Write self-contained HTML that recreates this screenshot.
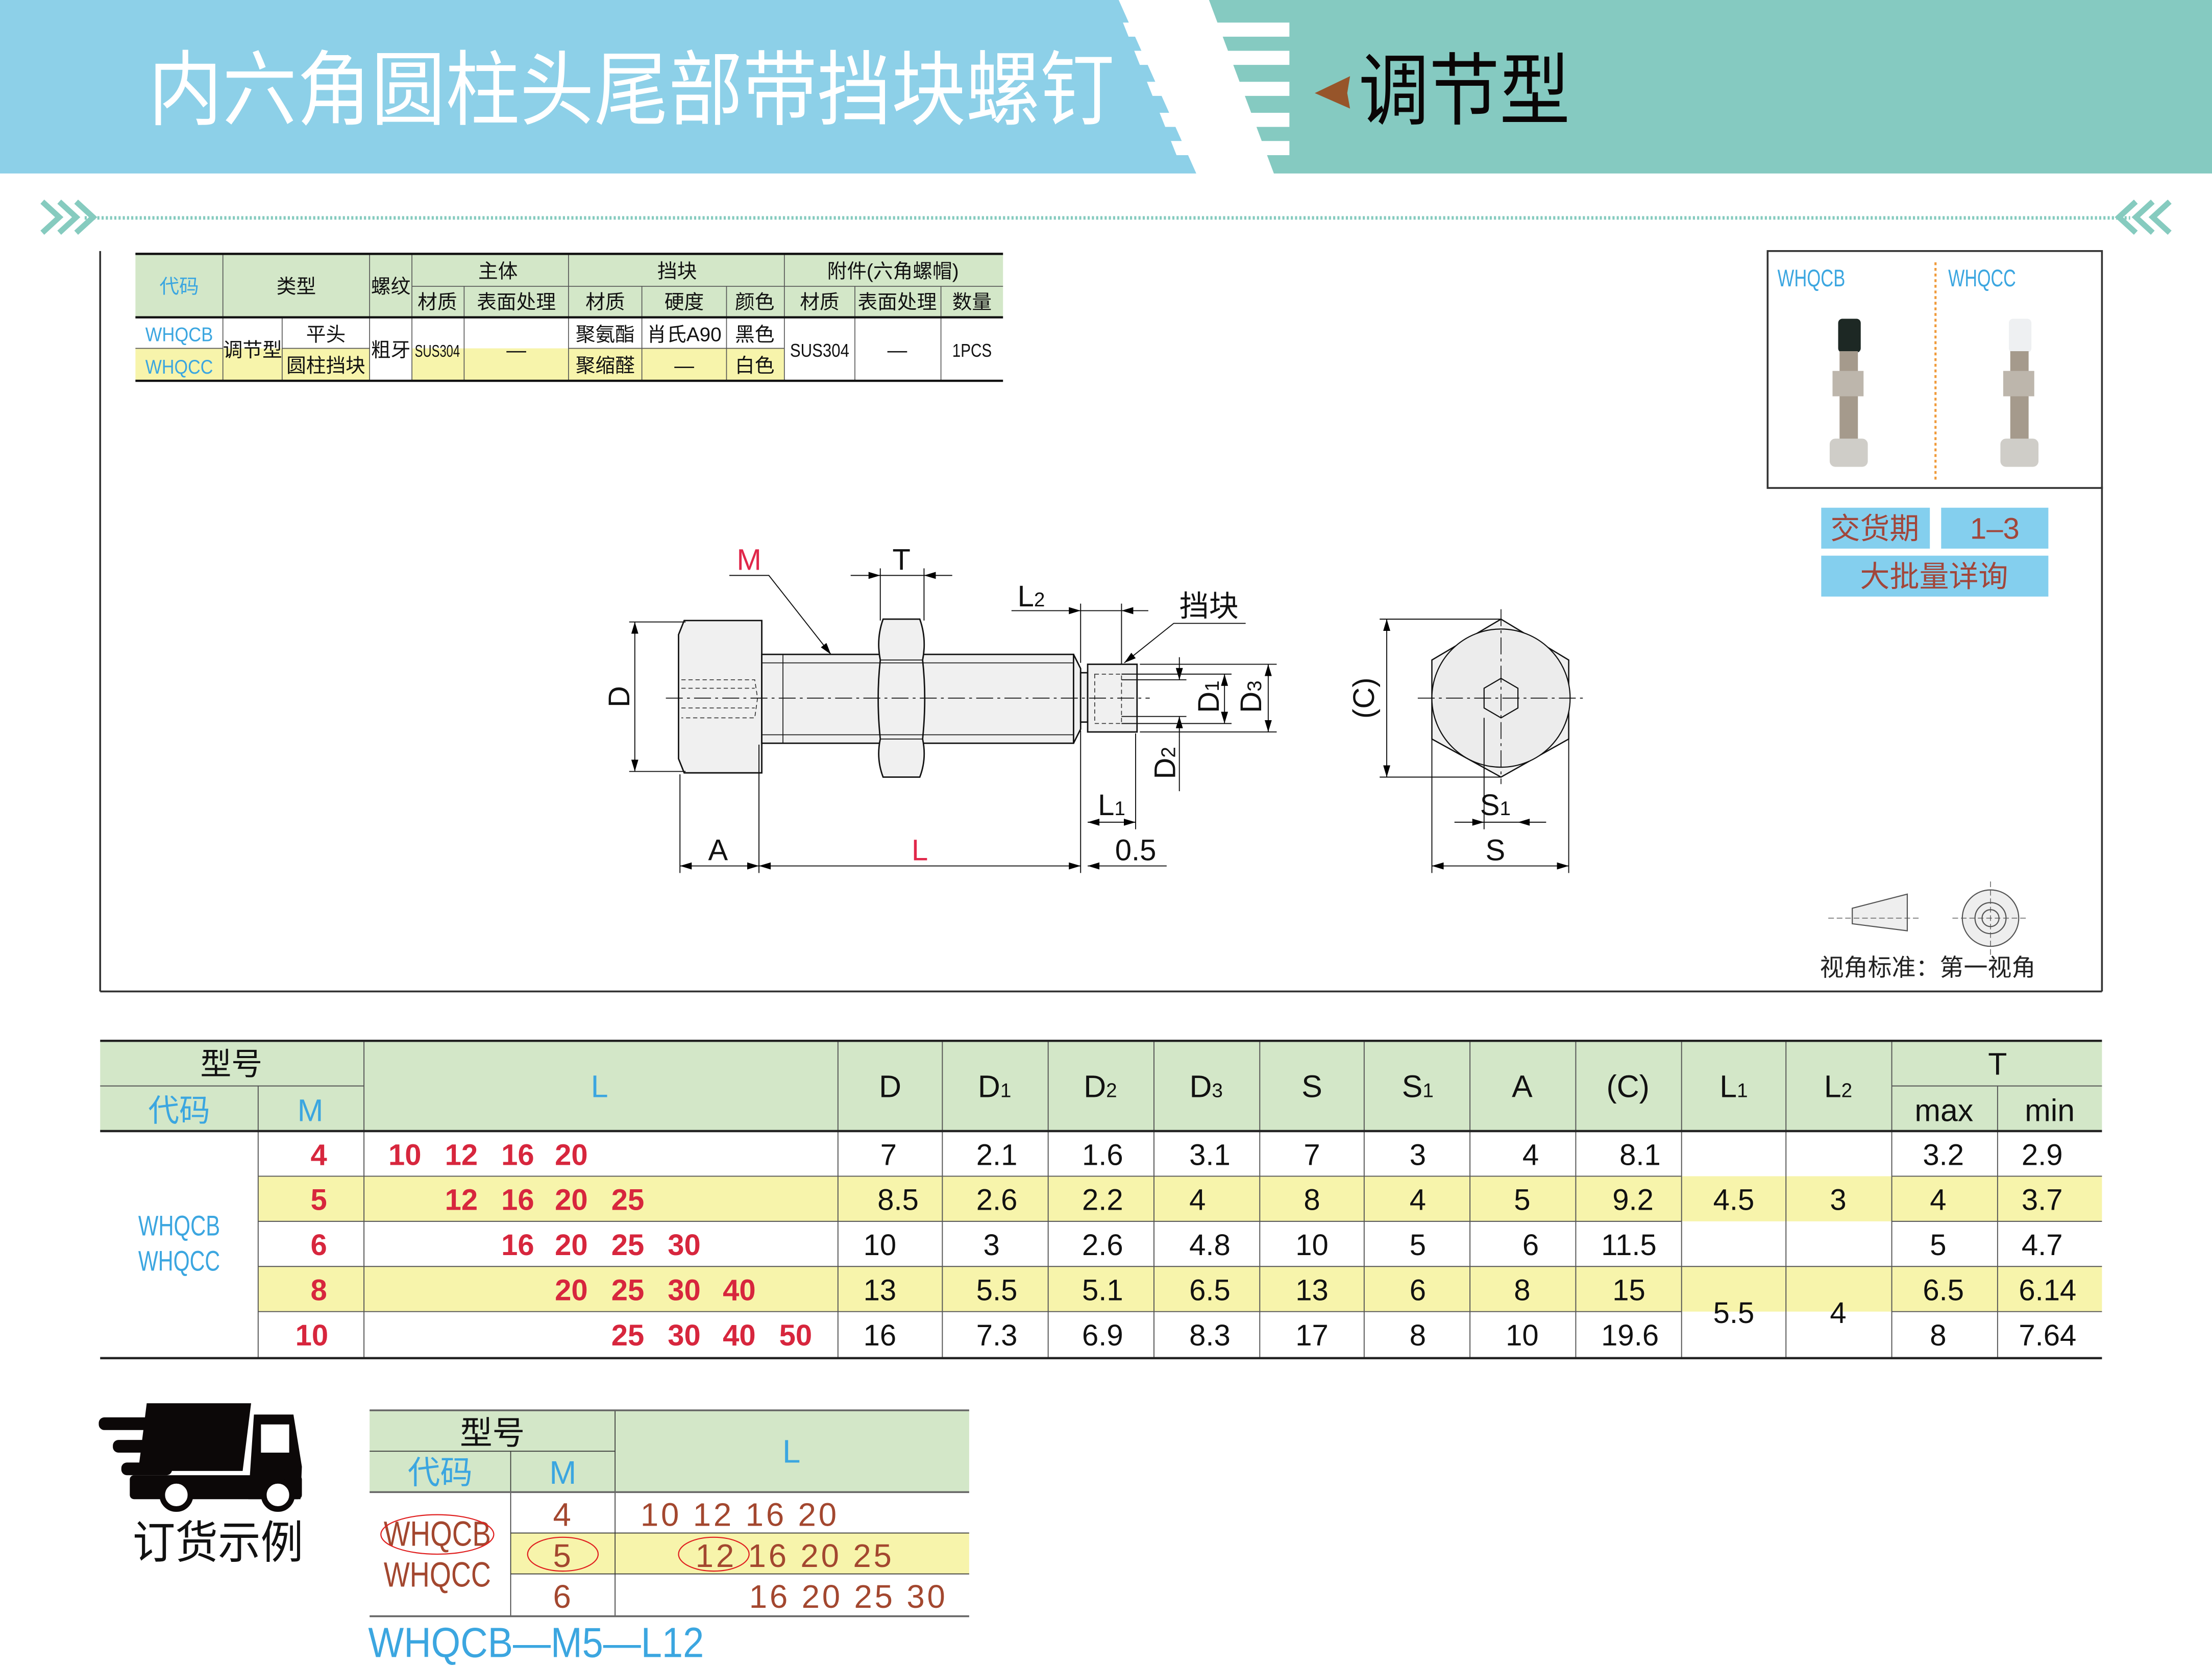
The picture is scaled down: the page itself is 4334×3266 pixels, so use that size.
<!DOCTYPE html>
<html><head><meta charset="utf-8"><style>
html,body{margin:0;padding:0;background:#fff;}
svg{display:block;}
text{font-family:"Liberation Sans","Noto Sans CJK SC",sans-serif;}
</style></head><body>
<svg width="4334" height="3266" viewBox="0 0 1568 1182" preserveAspectRatio="none" xmlns="http://www.w3.org/2000/svg">
<defs>
<marker id="a" viewBox="0 0 10 6" refX="10" refY="3" markerWidth="10" markerHeight="5" markerUnits="userSpaceOnUse" orient="auto-start-reverse"><path d="M0,0 L10,3 L0,6 z" fill="#000"/></marker>
</defs>
<!-- header -->
<polygon points="0,0 793,0 848,123 0,123" fill="#8dd0e8"/>
<polygon points="857,0 1568,0 1568,123 903,123" fill="#85cac1"/>
<g fill="#fff">
<polygon points="796,16 914,16 914,26 800,26"/>
<polygon points="804,36 914,36 914,46 808,46"/>
<polygon points="813,58 914,58 914,68 817,68"/>
<polygon points="822,80 914,80 914,90 826,90"/>
<polygon points="830,100 914,100 914,110 834,110"/>
</g>
<text x="105" y="84" font-size="58" fill="#fff" textLength="685" lengthAdjust="spacingAndGlyphs">内六角圆柱头尾部带挡块螺钉</text>
<polygon points="932,66 957,54 955,66 957,77" fill="#97552a"/>
<text x="963" y="84" font-size="56" fill="#0a0606" textLength="150" lengthAdjust="spacingAndGlyphs">调节型</text>
<line x1="60" y1="154.5" x2="1510" y2="154.5" stroke="#86cbbf" stroke-width="2.5" stroke-dasharray="1.5,1.5"/>
<g fill="none" stroke="#86cbbf" stroke-width="4">
<polyline points="30,143 42,154 30,165"/><polyline points="42,143 54,154 42,165"/><polyline points="54,143 66,154 54,165"/>
<polyline points="1538,143 1526,154 1538,165"/><polyline points="1526,143 1514,154 1526,165"/><polyline points="1514,143 1502,154 1514,165"/>
</g>
<!-- frame -->
<g stroke="#333" stroke-width="1.3" fill="none">
<line x1="71" y1="178" x2="71" y2="703"/>
<line x1="71" y1="703" x2="1490" y2="703"/>
<line x1="1490" y1="345" x2="1490" y2="703"/>
<rect x="1253" y="178" width="237" height="168"/>
</g>
<!-- spec table -->
<rect x="96" y="180" width="615" height="45" fill="#d3e7c8"/>
<g fill="#f7f4ab">
<rect x="96" y="247" width="62" height="23"/><rect x="158" y="247" width="104" height="23"/>
<rect x="292" y="247" width="264" height="23"/>
</g>
<g stroke="#555" stroke-width="0.6">
<line x1="158" y1="180" x2="158" y2="270"/><line x1="262" y1="180" x2="262" y2="270"/>
<line x1="292" y1="180" x2="292" y2="270"/><line x1="403" y1="180" x2="403" y2="270"/>
<line x1="556" y1="180" x2="556" y2="270"/><line x1="200" y1="225" x2="200" y2="270"/>
<line x1="329" y1="203" x2="329" y2="270"/><line x1="455" y1="203" x2="455" y2="270"/>
<line x1="515" y1="203" x2="515" y2="270"/><line x1="606" y1="203" x2="606" y2="270"/>
<line x1="667" y1="203" x2="667" y2="270"/>
<line x1="292" y1="203" x2="711" y2="203"/>
<line x1="96" y1="247" x2="158" y2="247"/><line x1="200" y1="247" x2="262" y2="247"/>
<line x1="403" y1="247" x2="556" y2="247"/>
</g>
<g stroke="#111" stroke-width="1.6">
<line x1="96" y1="180" x2="711" y2="180"/><line x1="96" y1="225" x2="711" y2="225"/><line x1="96" y1="270" x2="711" y2="270"/>
</g>
<g font-size="14" text-anchor="middle" fill="#111">
<text x="127" y="208" fill="#3ba6e0">代码</text><text x="210" y="208">类型</text><text x="277" y="208">螺纹</text>
<text x="353" y="197">主体</text><text x="480" y="197">挡块</text><text x="633" y="197">附件(六角螺帽)</text>
<text x="310" y="219">材质</text><text x="366" y="219">表面处理</text><text x="429" y="219">材质</text><text x="485" y="219">硬度</text>
<text x="535" y="219">颜色</text><text x="581" y="219">材质</text><text x="636" y="219">表面处理</text><text x="689" y="219">数量</text>
<text x="127" y="242" fill="#3ba6e0" textLength="48" lengthAdjust="spacingAndGlyphs">WHQCB</text><text x="127" y="265" fill="#3ba6e0" textLength="48" lengthAdjust="spacingAndGlyphs">WHQCC</text>
<text x="179" y="253">调节型</text><text x="231" y="242">平头</text><text x="231" y="264">圆柱挡块</text>
<text x="277" y="253">粗牙</text><text x="310" y="253" font-size="12" textLength="32" lengthAdjust="spacingAndGlyphs">SUS304</text><text x="366" y="253">—</text>
<text x="429" y="242">聚氨酯</text><text x="485" y="242">肖氏A90</text><text x="535" y="242">黑色</text>
<text x="429" y="264">聚缩醛</text><text x="485" y="264">—</text><text x="535" y="264">白色</text>
<text x="581" y="253" font-size="13" textLength="42" lengthAdjust="spacingAndGlyphs">SUS304</text><text x="636" y="253">—</text><text x="689" y="253" font-size="13" textLength="28" lengthAdjust="spacingAndGlyphs">1PCS</text>
</g>
<!-- photos -->
<text x="1260" y="203" font-size="17" fill="#3ba6e0" textLength="48" lengthAdjust="spacingAndGlyphs">WHQCB</text>
<text x="1381" y="203" font-size="17" fill="#3ba6e0" textLength="48" lengthAdjust="spacingAndGlyphs">WHQCC</text>
<line x1="1372" y1="186" x2="1372" y2="340" stroke="#f09a3a" stroke-width="1.5" stroke-dasharray="2,2"/>
<g>
<rect x="1303" y="226" width="16" height="24" rx="3" fill="#1d2824"/>
<rect x="1304" y="249" width="13" height="64" fill="#a59a8c"/>
<rect x="1299" y="263" width="22" height="18" fill="#bdb6ac"/>
<rect x="1297" y="311" width="27" height="20" rx="4" fill="#cfcdc8"/>
<rect x="1424" y="226" width="16" height="24" rx="3" fill="#eef0f2"/>
<rect x="1425" y="249" width="13" height="64" fill="#a59a8c"/>
<rect x="1420" y="263" width="22" height="18" fill="#bdb6ac"/>
<rect x="1418" y="311" width="27" height="20" rx="4" fill="#cfcdc8"/>
</g>
<rect x="1291" y="360" width="77" height="29" fill="#84cfee"/>
<rect x="1376" y="360" width="76" height="29" fill="#84cfee"/>
<rect x="1291" y="394" width="161" height="29" fill="#84cfee"/>
<g font-size="21" fill="#a2463a" text-anchor="middle">
<text x="1329" y="382">交货期</text><text x="1414" y="382">1–3</text><text x="1371" y="416">大批量详询</text>
</g>
<!-- view icon -->
<polygon points="1313,644 1352,634 1352,660 1313,655" fill="#eee" stroke="#555" stroke-width="0.8"/>
<circle cx="1411" cy="651" r="20" fill="#eee" stroke="#555" stroke-width="0.8"/>
<circle cx="1411" cy="651" r="11" fill="none" stroke="#555" stroke-width="0.8"/>
<circle cx="1411" cy="651" r="6" fill="none" stroke="#555" stroke-width="0.8"/>
<g stroke="#555" stroke-width="0.5" stroke-dasharray="4,2"><line x1="1296" y1="651" x2="1360" y2="651"/><line x1="1384" y1="651" x2="1438" y2="651"/><line x1="1411" y1="625" x2="1411" y2="677"/></g>
<text x="1290" y="692" font-size="17" fill="#222">视角标准：第一视角</text>
<!-- bolt drawing -->
<g stroke="#111" stroke-width="1" fill="#f0f0f0">
<polygon points="485,440 540,440 540,548 485,548 481,538 481,450"/>
<rect x="540" y="464" width="221" height="63"/>
<polygon points="761,464 766,474 766,517 761,527"/>
<rect x="766" y="477" width="5" height="35"/>
<rect x="771" y="471" width="35" height="48"/>
<path d="M626,439 L652,439 Q657,453 654,468 Q657,495 654,524 Q657,538 652,551 L626,551 Q621,538 624,524 Q621,495 624,468 Q621,453 626,439 Z"/>
</g>
<g stroke="#111" stroke-width="0.6" fill="none">
<line x1="540" y1="470" x2="761" y2="470"/><line x1="540" y1="521" x2="761" y2="521"/>
<line x1="555" y1="464" x2="555" y2="527"/>
<line x1="624" y1="468" x2="654" y2="468"/><line x1="624" y1="524" x2="654" y2="524"/>
</g>
<g stroke="#333" stroke-width="0.6" fill="none" stroke-dasharray="3,2">
<path d="M483,482 H535 L537,495 L535,509 H483"/><line x1="483" y1="488" x2="535" y2="488"/><line x1="483" y1="502" x2="535" y2="502"/>
<rect x="776" y="478" width="19" height="35"/>
</g>
<line x1="472" y1="495" x2="815" y2="495" stroke="#111" stroke-width="0.6" stroke-dasharray="12,3,2,3"/>
<!-- dims -->
<g stroke="#111" stroke-width="0.7" fill="none">
<line x1="446" y1="441" x2="486" y2="441"/><line x1="446" y1="547" x2="486" y2="547"/>
<line x1="450" y1="441" x2="450" y2="547" marker-start="url(#a)" marker-end="url(#a)"/>
<line x1="482" y1="549" x2="482" y2="619"/><line x1="538" y1="528" x2="538" y2="619"/>
<line x1="766" y1="518" x2="766" y2="619"/><line x1="805" y1="520" x2="805" y2="588"/>
<line x1="482" y1="614" x2="538" y2="614" marker-start="url(#a)" marker-end="url(#a)"/>
<line x1="538" y1="614" x2="766" y2="614" marker-start="url(#a)" marker-end="url(#a)"/>
<line x1="771" y1="614" x2="827" y2="614" marker-start="url(#a)"/>
<line x1="771" y1="583" x2="805" y2="583" marker-start="url(#a)" marker-end="url(#a)"/>
<line x1="624" y1="403" x2="624" y2="440"/><line x1="655" y1="403" x2="655" y2="440"/>
<line x1="603" y1="408" x2="624" y2="408" marker-end="url(#a)"/><line x1="675" y1="408" x2="655" y2="408" marker-end="url(#a)"/><line x1="624" y1="408" x2="655" y2="408"/>
<line x1="766" y1="428" x2="766" y2="470"/><line x1="795" y1="428" x2="795" y2="471"/>
<line x1="717" y1="433" x2="766" y2="433" marker-end="url(#a)"/><line x1="814" y1="433" x2="795" y2="433" marker-end="url(#a)"/><line x1="766" y1="433" x2="795" y2="433"/>
<polyline points="517,408 545,408 589,464" marker-end="url(#a)"/>
<polyline points="883,442 832,442 797,470" marker-end="url(#a)"/>
<line x1="795" y1="482" x2="841" y2="482"/><line x1="795" y1="508" x2="841" y2="508"/>
<line x1="836" y1="466" x2="836" y2="482" marker-end="url(#a)"/><line x1="836" y1="524" x2="836" y2="508" marker-end="url(#a)"/><line x1="836" y1="524" x2="836" y2="561"/>
<line x1="795" y1="478" x2="873" y2="478"/><line x1="795" y1="513" x2="873" y2="513"/>
<line x1="868" y1="478" x2="868" y2="513" marker-start="url(#a)" marker-end="url(#a)"/>
<line x1="808" y1="471" x2="905" y2="471"/><line x1="808" y1="519" x2="905" y2="519"/>
<line x1="899" y1="471" x2="899" y2="519" marker-start="url(#a)" marker-end="url(#a)"/>
</g>
<g font-size="21" fill="#111" text-anchor="middle">
<text x="531" y="404" fill="#e0274a">M</text><text x="639" y="404">T</text>
<text x="731" y="430">L<tspan font-size="14">2</tspan></text>
<text x="857" y="437">挡块</text>
<text x="509" y="610">A</text><text x="652" y="610" fill="#e0274a">L</text><text x="805" y="610">0.5</text>
<text x="788" y="578">L<tspan font-size="14">1</tspan></text>
<text transform="translate(446,494) rotate(-90)">D</text>
<text transform="translate(864,494) rotate(-90)">D<tspan font-size="14">1</tspan></text>
<text transform="translate(894,494) rotate(-90)">D<tspan font-size="14">3</tspan></text>
<text transform="translate(833,541) rotate(-90)">D<tspan font-size="14">2</tspan></text>
<text transform="translate(974,495) rotate(-90)">(C)</text>
<text x="1060" y="578">S<tspan font-size="14">1</tspan></text>
<text x="1060" y="610">S</text>
</g>
<!-- end view -->
<polygon points="1064,439 1112,468 1112,524 1064,551 1015,524 1015,468" fill="#f0f0f0" stroke="#111" stroke-width="0.9"/>
<circle cx="1064" cy="495" r="49" fill="#ececec" stroke="#111" stroke-width="0.8"/>
<polygon points="1064,481 1076,488 1076,502 1064,509 1052,502 1052,488" fill="none" stroke="#111" stroke-width="0.8"/>
<g stroke="#111" stroke-width="0.6" stroke-dasharray="12,3,2,3"><line x1="1005" y1="495" x2="1122" y2="495"/><line x1="1064" y1="432" x2="1064" y2="556"/></g>
<g stroke="#111" stroke-width="0.7" fill="none">
<line x1="978" y1="439" x2="1064" y2="439"/><line x1="978" y1="551" x2="1064" y2="551"/>
<line x1="983" y1="439" x2="983" y2="551" marker-start="url(#a)" marker-end="url(#a)"/>
<line x1="1015" y1="524" x2="1015" y2="619"/><line x1="1112" y1="524" x2="1112" y2="619"/><line x1="1052" y1="509" x2="1052" y2="588"/>
<line x1="1015" y1="614" x2="1112" y2="614" marker-start="url(#a)" marker-end="url(#a)"/>
<line x1="1031" y1="583" x2="1052" y2="583" marker-end="url(#a)"/><line x1="1096" y1="583" x2="1076" y2="583" marker-end="url(#a)"/><line x1="1052" y1="583" x2="1076" y2="583"/>
</g>
<!-- main table -->
<rect x="71" y="738" width="1419" height="64" fill="#d3e7c8"/>
<rect x="183" y="834" width="1307" height="32" fill="#f7f4ab"/>
<rect x="183" y="898" width="1307" height="32" fill="#f7f4ab"/>
<g stroke="#555" stroke-width="0.7">
<line x1="71" y1="770" x2="258" y2="770"/><line x1="1341" y1="770" x2="1490" y2="770"/>
<line x1="183" y1="770" x2="183" y2="963"/><line x1="1416" y1="770" x2="1416" y2="963"/>
<line x1="258" y1="738" x2="258" y2="963"/><line x1="594" y1="738" x2="594" y2="963"/>
<line x1="668" y1="738" x2="668" y2="963"/><line x1="743" y1="738" x2="743" y2="963"/>
<line x1="818" y1="738" x2="818" y2="963"/><line x1="893" y1="738" x2="893" y2="963"/>
<line x1="967" y1="738" x2="967" y2="963"/><line x1="1042" y1="738" x2="1042" y2="963"/>
<line x1="1117" y1="738" x2="1117" y2="963"/><line x1="1192" y1="738" x2="1192" y2="963"/>
<line x1="1266" y1="738" x2="1266" y2="963"/><line x1="1341" y1="738" x2="1341" y2="963"/>
<line x1="183" y1="834" x2="1192" y2="834"/><line x1="1341" y1="834" x2="1490" y2="834"/>
<line x1="183" y1="866" x2="1192" y2="866"/><line x1="1341" y1="866" x2="1490" y2="866"/>
<line x1="183" y1="898" x2="1490" y2="898"/>
<line x1="183" y1="930" x2="1192" y2="930"/><line x1="1341" y1="930" x2="1490" y2="930"/>
</g>
<g stroke="#222" stroke-width="1.6">
<line x1="71" y1="738" x2="1490" y2="738"/><line x1="71" y1="802" x2="1490" y2="802"/><line x1="71" y1="963" x2="1490" y2="963"/>
</g>
<g font-size="22" fill="#111" text-anchor="middle">
<text x="164" y="762">型号</text><text x="127" y="795" fill="#3ba6e0">代码</text><text x="220" y="795" fill="#3ba6e0">M</text>
<text x="425" y="778" fill="#3ba6e0">L</text>
<text x="631" y="778">D</text><text x="705" y="778">D<tspan font-size="14">1</tspan></text><text x="780" y="778">D<tspan font-size="14">2</tspan></text>
<text x="855" y="778">D<tspan font-size="14">3</tspan></text><text x="930" y="778">S</text><text x="1005" y="778">S<tspan font-size="14">1</tspan></text>
<text x="1079" y="778">A</text><text x="1154" y="778">(C)</text><text x="1229" y="778">L<tspan font-size="14">1</tspan></text><text x="1303" y="778">L<tspan font-size="14">2</tspan></text>
<text x="1416" y="762">T</text><text x="1378" y="795">max</text><text x="1453" y="795">min</text>
<text x="127" y="876" fill="#3ba6e0" font-size="20" textLength="58" lengthAdjust="spacingAndGlyphs">WHQCB</text><text x="127" y="901" fill="#3ba6e0" font-size="20" textLength="58" lengthAdjust="spacingAndGlyphs">WHQCC</text>
</g>
<g font-size="21" fill="#d7263d" font-weight="bold" text-anchor="middle">
<text x="226" y="826">4</text><text x="226" y="858">5</text><text x="226" y="890">6</text><text x="226" y="922">8</text><text x="221" y="954">10</text>
<text x="287" y="826">10</text><text x="327" y="826">12</text><text x="367" y="826">16</text><text x="405" y="826">20</text>
<text x="327" y="858">12</text><text x="367" y="858">16</text><text x="405" y="858">20</text><text x="445" y="858">25</text>
<text x="367" y="890">16</text><text x="405" y="890">20</text><text x="445" y="890">25</text><text x="485" y="890">30</text>
<text x="405" y="922">20</text><text x="445" y="922">25</text><text x="485" y="922">30</text><text x="524" y="922">40</text>
<text x="445" y="954">25</text><text x="485" y="954">30</text><text x="524" y="954">40</text><text x="564" y="954">50</text>
</g>
<g font-size="21" fill="#111">
<g text-anchor="start">
<text x="624" y="826">7</text><text x="622" y="858">8.5</text><text x="612" y="890">10</text><text x="612" y="922">13</text><text x="612" y="954">16</text>
<text x="692" y="826">2.1</text><text x="692" y="858">2.6</text><text x="697" y="890">3</text><text x="692" y="922">5.5</text><text x="692" y="954">7.3</text>
<text x="767" y="826">1.6</text><text x="767" y="858">2.2</text><text x="767" y="890">2.6</text><text x="767" y="922">5.1</text><text x="767" y="954">6.9</text>
<text x="843" y="826">3.1</text><text x="843" y="858">4</text><text x="843" y="890">4.8</text><text x="843" y="922">6.5</text><text x="843" y="954">8.3</text>
<text x="1148" y="826">8.1</text><text x="1143" y="858">9.2</text><text x="1135" y="890">11.5</text><text x="1143" y="922">15</text><text x="1135" y="954">19.6</text>
<text x="1363" y="826">3.2</text><text x="1368" y="858">4</text><text x="1368" y="890">5</text><text x="1363" y="922">6.5</text><text x="1368" y="954">8</text>
<text x="1433" y="826">2.9</text><text x="1433" y="858">3.7</text><text x="1433" y="890">4.7</text><text x="1431" y="922">6.14</text><text x="1431" y="954">7.64</text>
</g>
<g text-anchor="middle">
<text x="930" y="826">7</text><text x="930" y="858">8</text><text x="930" y="890">10</text><text x="930" y="922">13</text><text x="930" y="954">17</text>
<text x="1005" y="826">3</text><text x="1005" y="858">4</text><text x="1005" y="890">5</text><text x="1005" y="922">6</text><text x="1005" y="954">8</text>
<text x="1085" y="826">4</text><text x="1079" y="858">5</text><text x="1085" y="890">6</text><text x="1079" y="922">8</text><text x="1079" y="954">10</text>
<text x="1229" y="858">4.5</text><text x="1303" y="858">3</text><text x="1229" y="938">5.5</text><text x="1303" y="938">4</text>
</g>
</g>
<!-- truck -->
<g fill="#0c0808">
<polygon points="104,995 178,995 172,1043 98,1043"/>
<rect x="70" y="1005" width="44" height="9" rx="4"/>
<rect x="80" y="1021" width="50" height="9" rx="4"/>
<rect x="86" y="1037" width="36" height="9" rx="4"/>
<polygon points="180,1003 208,1003 214,1040 213,1063 176,1063"/>
<rect x="92" y="1046" width="122" height="17" rx="3"/>
</g>
<rect x="185" y="1010" width="20" height="20" fill="#fff"/>
<circle cx="125" cy="1060" r="10" fill="#fff" stroke="#0c0808" stroke-width="4"/>
<circle cx="197" cy="1060" r="10" fill="#fff" stroke="#0c0808" stroke-width="4"/>
<text x="94" y="1105" font-size="32" fill="#111" textLength="121" lengthAdjust="spacingAndGlyphs">订货示例</text>
<!-- small table -->
<rect x="262" y="1000" width="425" height="58" fill="#d3e7c8"/>
<rect x="362" y="1087" width="325" height="29" fill="#f7f4ab"/>
<g stroke="#333" stroke-width="0.6">
<line x1="362" y1="1029" x2="362" y2="1146"/><line x1="436" y1="1000" x2="436" y2="1146"/>
<line x1="262" y1="1029" x2="436" y2="1029"/>
<line x1="362" y1="1087" x2="687" y2="1087"/><line x1="362" y1="1116" x2="687" y2="1116"/>
</g>
<g stroke="#666" stroke-width="1.3"><line x1="262" y1="1000" x2="687" y2="1000"/><line x1="262" y1="1058" x2="687" y2="1058"/><line x1="262" y1="1146" x2="687" y2="1146"/></g>
<g font-size="23" text-anchor="middle" fill="#111">
<text x="349" y="1024">型号</text><text x="312" y="1052" fill="#3ba6e0">代码</text><text x="399" y="1052" fill="#3ba6e0">M</text><text x="561" y="1037" fill="#3ba6e0">L</text>
</g>
<g font-size="23" fill="#a3472f">
<text x="272" y="1096" font-size="25" textLength="76" lengthAdjust="spacingAndGlyphs">WHQCB</text>
<text x="272" y="1125" font-size="25" textLength="76" lengthAdjust="spacingAndGlyphs">WHQCC</text>
<text x="392" y="1082">4</text><text x="392" y="1111">5</text><text x="392" y="1140">6</text>
<text x="454" y="1082" textLength="139" lengthAdjust="spacing">10 12 16 20</text>
<text x="493" y="1111" textLength="139" lengthAdjust="spacing">12 16 20 25</text>
<text x="531" y="1140" textLength="139" lengthAdjust="spacing">16 20 25 30</text>
</g>
<g fill="none" stroke="#e02020" stroke-width="0.8">
<ellipse cx="310" cy="1088" rx="40" ry="14"/><ellipse cx="399" cy="1102" rx="25" ry="12"/><ellipse cx="506" cy="1102" rx="25" ry="12"/>
</g>
<text x="261" y="1175" font-size="30" fill="#3ba6e0" textLength="238" lengthAdjust="spacingAndGlyphs">WHQCB—M5—L12</text>
</svg>
</body></html>
